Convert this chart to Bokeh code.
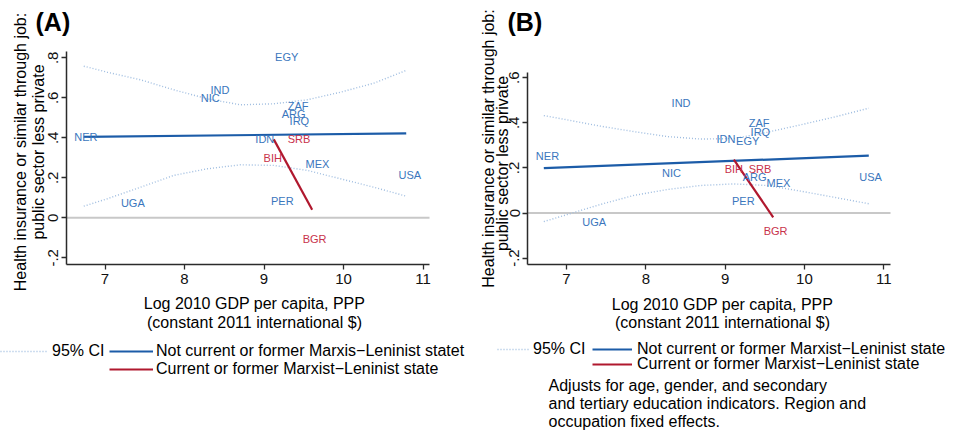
import math
from bokeh.plotting import figure
from bokeh.models import (Range1d, FixedTicker, Label, Legend, LegendItem,
                          ColumnDataSource, LinearAxis)
from bokeh.embed import file_html
from bokeh.resources import INLINE
from bokeh.core.properties import value

# ---------------- data ----------------
countries = ["NER", "UGA", "NIC", "IND", "IDN", "BIH", "PER", "EGY",
             "ARG", "ZAF", "IRQ", "SRB", "BGR", "MEX", "USA"]
marxist = [0, 0, 0, 0, 0, 1, 0, 0, 0, 0, 0, 1, 1, 0, 0]
log_gdp = [6.76, 7.35, 8.325, 8.445, 9.01, 9.11, 9.23, 9.285,
           9.373, 9.43, 9.445, 9.44, 9.637, 9.673, 10.835]
gap_a = [0.402, 0.075, 0.600, 0.637, 0.392, 0.298, 0.082, 0.803,
         0.517, 0.558, 0.483, 0.392, -0.105, 0.267, 0.212]
gap_b = [0.251, -0.041, 0.178, 0.487, 0.329, 0.193, 0.051, 0.321,
         0.159, 0.398, 0.360, 0.193, -0.082, 0.135, 0.159]

ci_x_a = [6.733, 7.028, 7.447, 7.865, 8.286, 8.704, 9.123, 9.543, 9.962, 10.381, 10.789]
ci_hi_a = [0.758, 0.728, 0.690, 0.640, 0.595, 0.565, 0.570, 0.590, 0.628, 0.673, 0.737]
ci_lo_a = [0.058, 0.095, 0.153, 0.212, 0.245, 0.265, 0.262, 0.237, 0.195, 0.153, 0.108]

ci_x_b = [6.714, 7.009, 7.429, 7.849, 8.270, 8.690, 9.110, 9.531, 9.952, 10.371, 10.812]
ci_hi_b = [0.432, 0.413, 0.385, 0.361, 0.339, 0.328, 0.330, 0.358, 0.391, 0.425, 0.465]
ci_lo_b = [-0.038, -0.007, 0.038, 0.078, 0.104, 0.122, 0.129, 0.122, 0.097, 0.070, 0.041]

fit_blue_x_a = [6.733, 10.789]
fit_blue_y_a = [0.405, 0.422]
fit_red_x_a = [9.123, 9.606]
fit_red_y_a = [0.392, 0.040]

fit_blue_x_b = [6.714, 10.812]
fit_blue_y_b = [0.199, 0.254]
fit_red_x_b = [9.110, 9.607]
fit_red_y_b = [0.237, -0.019]

reference_y = 0.0

x_ticks = [7, 8, 9, 10, 11]
y_ticks_a = [-0.2, 0, 0.2, 0.4, 0.6, 0.8]
y_labels_a = ["-.2", "0", ".2", ".4", ".6", ".8"]
y_ticks_b = [-0.2, 0, 0.2, 0.4, 0.6]
y_labels_b = ["-.2", "0", ".2", ".4", ".6"]

ytitle = ["Health insurance or similar through job:", "public sector less private"]
xtitle = ["Log 2010 GDP per capita, PPP", "(constant 2011 international $)"]
legend_ci = "95% CI"
legend_blue_a = "Not current or former Marxis\u2212Leninist statet"
legend_blue_b = "Not current or former Marxist\u2212Leninist state"
legend_red = "Current or former Marxist\u2212Leninist state"
note_lines = ["Adjusts for age, gender, and secondary",
              "and tertiary education indicators. Region and",
              "occupation fixed effects."]

# ---------------- style / layout ----------------
FONT = "Liberation Sans"
BLUE_LAB = "#3a76bd"
RED_LAB = "#c8324a"
BLUE_LINE = "#1c5ca8"
RED_LINE = "#b0182e"
CI_COL = "#9fbde0"
AXIS_COL = "#2b2b2b"

# canvas placement (picture pixels) and size
OX, OY, CW, CH = 0, 0, 945, 430


# picture-pixel -> data mappings of the two panels
def xa(px): return 7 + (px - 104.5) / 79.5
def ya(py): return (217.3 - py) / 200.0
def xb(px): return 7 + (px - 566.0) / 79.3
def yb(py): return (212.5 - py) / 225.5


p = figure(frame_width=CW, frame_height=CH,
           min_border_left=0, min_border_right=0, min_border_top=0, min_border_bottom=0,
           x_range=Range1d(xa(OX), xa(OX + CW)), y_range=Range1d(ya(OY + CH), ya(OY)),
           x_axis_type=None, y_axis_type=None,
           output_backend="svg", toolbar_location=None, title=None)
p.extra_x_ranges = {"b": Range1d(xb(OX), xb(OX + CW))}
p.extra_y_ranges = {"b": Range1d(yb(OY + CH), yb(OY))}
p.outline_line_color = None
p.xgrid.visible = False
p.ygrid.visible = False
p.background_fill_color = "white"
p.border_fill_color = "white"


def style_axis(ax):
    ax.axis_line_color = AXIS_COL
    ax.axis_line_width = 1.5
    ax.major_tick_line_color = AXIS_COL
    ax.major_tick_line_width = 1.3
    ax.major_tick_out = 5
    ax.major_tick_in = 0
    ax.minor_tick_line_color = None
    ax.major_label_text_font = FONT
    ax.major_label_text_font_size = "15px"
    ax.major_label_text_color = "#111111"


def add_axes(rn, fx, fy, left, right, top, bottom, yt, yl):
    kw = {} if rn is None else dict(x_range_name=rn, y_range_name=rn)
    xax = LinearAxis(fixed_location=fy(bottom), bounds=(fx(left), fx(right)),
                     ticker=FixedTicker(ticks=x_ticks), major_label_standoff=4, **kw)
    yax = LinearAxis(fixed_location=fx(left), bounds=(fy(bottom), fy(top)),
                     ticker=FixedTicker(ticks=yt), major_label_standoff=3,
                     major_label_orientation="vertical",
                     major_label_overrides={t: l for t, l in zip(yt, yl)}, **kw)
    style_axis(xax)
    style_axis(yax)
    p.add_layout(xax, "below")
    p.add_layout(yax, "left")


def draw_panel(rn, fx, left, right, gap, ci_x, ci_hi, ci_lo, bx, by, rx, ry):
    kw = {} if rn is None else dict(x_range_name=rn, y_range_name=rn)
    p.line([fx(left), fx(right)], [reference_y, reference_y], line_color="#c8c8c8",
           line_width=2, **kw)
    r_ci = p.line(ci_x, ci_hi, line_color=CI_COL, line_width=1.4, line_dash="1 2", **kw)
    p.line(ci_x, ci_lo, line_color=CI_COL, line_width=1.4, line_dash="1 2", **kw)
    r_blue = p.line(bx, by, line_color=BLUE_LINE, line_width=2.2, **kw)
    r_red = p.line(rx, ry, line_color=RED_LINE, line_width=2.2, **kw)
    src = ColumnDataSource(dict(
        x=log_gdp, y=gap, t=countries,
        c=[RED_LAB if m else BLUE_LAB for m in marxist]))
    p.text(x="x", y="y", text="t", source=src, text_color="c",
           text_font=value(FONT), text_font_size=value("11px"),
           text_align="center", text_baseline="middle", **kw)
    return r_ci, r_blue, r_red


def add_text(px, py, text, size="16px", align="center", angle=0.0, bold=False):
    p.add_layout(Label(x=xa(px), y=ya(py), text=text, text_font=FONT,
                       text_font_size=size, text_align=align,
                       text_baseline="middle", angle=angle,
                       text_color="black",
                       text_font_style="bold" if bold else "normal"))


def add_legend(page_x, center_y, renderer, label, gw, standoff):
    lg = Legend(items=[LegendItem(label=label, renderers=[renderer])],
                location=(page_x - OX, (OY + CH) - (center_y + 12)),
                orientation="vertical", padding=0, margin=0, spacing=0,
                glyph_width=gw, glyph_height=24, label_height=24,
                label_standoff=standoff, border_line_color=None,
                background_fill_alpha=0, label_text_font=FONT,
                label_text_font_size="16px", label_text_color="black")
    p.add_layout(lg)


# ---------------- panel A ----------------
add_axes(None, xa, ya, 66, 429, 51, 264, y_ticks_a, y_labels_a)
ciA, blA, rdA = draw_panel(None, xa, 66, 429, gap_a, ci_x_a, ci_hi_a, ci_lo_a,
                           fit_blue_x_a, fit_blue_y_a, fit_red_x_a, fit_red_y_a)
add_text(35, 21, "(A)", size="25px", align="left", bold=True)
add_text(19.5, 151.5, ytitle[0], angle=math.pi / 2)
add_text(37.5, 151.5, ytitle[1], angle=math.pi / 2)
add_text(254, 303.3, xtitle[0])
add_text(254, 321.7, xtitle[1])
add_legend(0, 351, ciA, legend_ci, 47, 5)
add_legend(109, 351, blA, legend_blue_a, 44, 3)
add_legend(109, 369, rdA, legend_red, 44, 3)

# ---------------- panel B ----------------
add_axes("b", xb, yb, 527, 890, 72, 264, y_ticks_b, y_labels_b)
ciB, blB, rdB = draw_panel("b", xb, 527, 890, gap_b, ci_x_b, ci_hi_b, ci_lo_b,
                           fit_blue_x_b, fit_blue_y_b, fit_red_x_b, fit_red_y_b)
add_text(507, 21, "(B)", size="25px", align="left", bold=True)
add_text(488, 148, ytitle[0], angle=math.pi / 2)
add_text(502, 163, ytitle[1], angle=math.pi / 2)
add_text(722, 304, xtitle[0])
add_text(722, 322.3, xtitle[1])
add_legend(497, 348.5, ciB, legend_ci, 33, 3)
add_legend(592, 348.5, blB, legend_blue_b, 40, 5)
add_legend(592, 363.5, rdB, legend_red, 40, 5)
for line, cy in zip(note_lines, [384.5, 403, 421]):
    add_text(548, cy, line, align="left")

open("out.html", "w").write(file_html(p, INLINE))
